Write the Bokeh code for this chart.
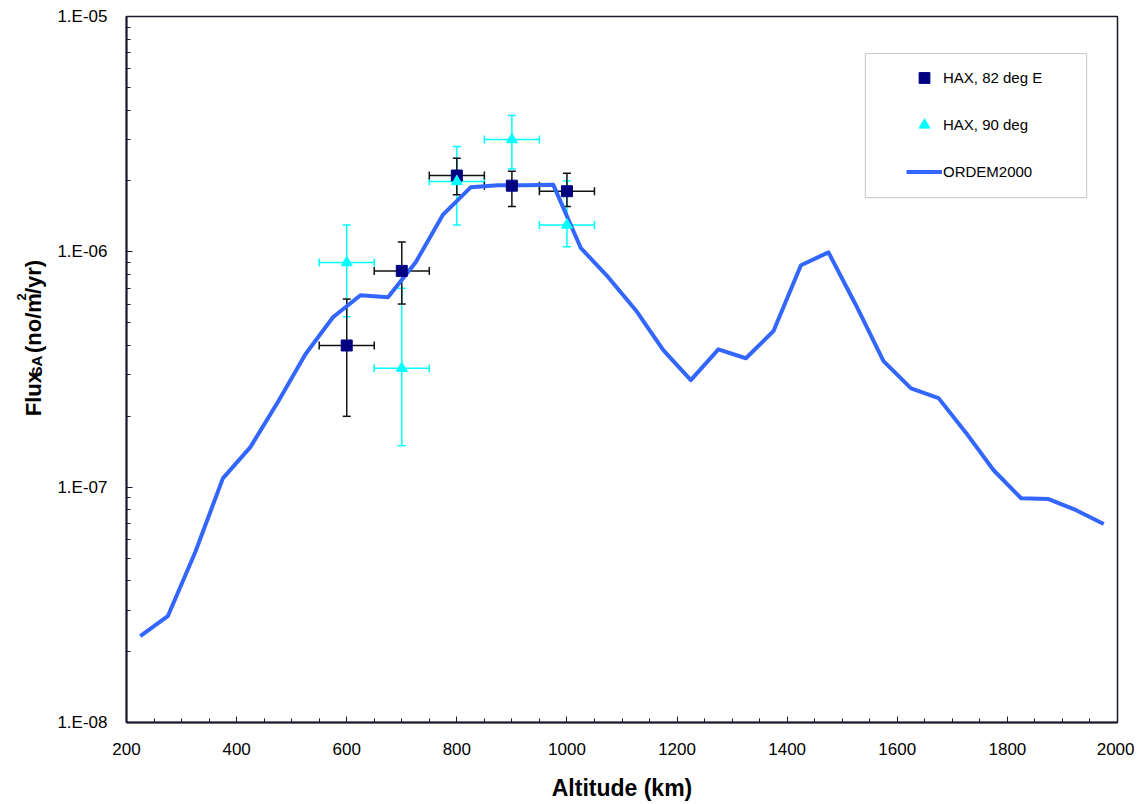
import math
from bokeh.plotting import figure
from bokeh.layouts import row
from bokeh.core.properties import value
from bokeh.models import (ColumnDataSource, Whisker, TeeHead, Legend, LegendItem,
                          FixedTicker, SingleIntervalTicker, CustomJSTickFormatter,
                          BoxAnnotation, Range1d)
from bokeh.embed import file_html
from bokeh.resources import INLINE

# ---------------- data ----------------
ordem_alt = [225, 275, 325, 375, 425, 475, 525, 575, 625, 675, 725, 775, 825, 875,
             925, 975, 1025, 1075, 1125, 1175, 1225, 1275, 1325, 1375, 1425, 1475,
             1525, 1575, 1625, 1675, 1725, 1775, 1825, 1875, 1925, 1975]
ordem_flux = [2.33e-8, 2.83e-8, 5.3e-8, 1.09e-7, 1.48e-7, 2.3e-7, 3.67e-7, 5.27e-7,
              6.54e-7, 6.41e-7, 9.0e-7, 1.44e-6, 1.88e-6, 1.92e-6, 1.92e-6, 1.93e-6,
              1.04e-6, 7.8e-7, 5.65e-7, 3.82e-7, 2.85e-7, 3.85e-7, 3.53e-7, 4.6e-7,
              8.77e-7, 9.95e-7, 5.93e-7, 3.43e-7, 2.63e-7, 2.39e-7, 1.70e-7, 1.18e-7,
              8.97e-8, 8.9e-8, 7.98e-8, 6.97e-8]

hax82_alt = [600, 700, 800, 900, 1000]
hax82_flux = [4.0e-7, 8.3e-7, 2.11e-6, 1.91e-6, 1.81e-6]
hax82_lo = [2.0e-7, 6.0e-7, 1.75e-6, 1.56e-6, 1.56e-6]
hax82_hi = [6.3e-7, 1.10e-6, 2.5e-6, 2.2e-6, 2.16e-6]

hax90_alt = [600, 700, 800, 900, 1000]
hax90_flux = [9.0e-7, 3.2e-7, 1.99e-6, 3.0e-6, 1.30e-6]
hax90_lo = [5.3e-7, 1.5e-7, 1.3e-6, 2.25e-6, 1.05e-6]
hax90_hi = [1.3e-6, 7.0e-7, 2.8e-6, 3.8e-6, 2.0e-6]

alt_err = [50, 50, 50, 50, 50]

y_major = [1e-8, 1e-7, 1e-6, 1e-5]

# y-axis title pieces (text, font size, baseline shift)
ytitle_parts = ["Flux", "SA", "(no/m", "2", "/yr)"]

# ---------------- figure ----------------
FONT = "Liberation Sans"
AXIS_COLOR = "#1a1a2e"
TOTAL_H = 794
LAB_W = 50

p = figure(frame_width=991, frame_height=706,
           x_range=Range1d(200, 2000), y_range=Range1d(1e-8, 1e-5),
           y_axis_type="log", output_backend="svg", toolbar_location=None,
           min_border_left=126 - LAB_W, min_border_right=17, min_border_top=16,
           min_border_bottom=72)
p.background_fill_color = "white"
p.border_fill_color = "white"
p.xgrid.visible = False
p.ygrid.visible = False
p.outline_line_color = AXIS_COLOR
p.outline_line_width = 1.5

# x axis
p.xaxis.ticker = SingleIntervalTicker(interval=200, num_minor_ticks=4)
p.xaxis.axis_label = "Altitude (km)"
p.xaxis.axis_label_text_font = FONT
p.xaxis.axis_label_text_font_size = "23px"
p.xaxis.axis_label_text_font_style = "bold"
p.xaxis.axis_label_text_color = "black"
p.xaxis.axis_label_standoff = 17
p.xaxis.major_label_standoff = 20

# y axis
minor = [m * d for d in (1e-8, 1e-7, 1e-6) for m in range(2, 10)]
p.yaxis.ticker = FixedTicker(ticks=y_major, minor_ticks=minor)
p.yaxis.formatter = CustomJSTickFormatter(code="""
    const e = Math.round(-Math.log10(tick));
    return "1.E-" + String(e).padStart(2, "0");
""")
p.yaxis.major_label_standoff = 19
p.yaxis.axis_label = None

for ax in (p.xaxis[0], p.yaxis[0]):
    ax.axis_line_color = AXIS_COLOR
    ax.axis_line_width = 2
    ax.major_tick_line_color = AXIS_COLOR
    ax.minor_tick_line_color = AXIS_COLOR
    ax.major_tick_in = 6
    ax.major_tick_out = 0
    ax.minor_tick_in = 4
    ax.minor_tick_out = 0
    ax.major_label_text_font = FONT
    ax.major_label_text_font_size = "17px"
    ax.major_label_text_color = "black"

# ---------------- error bars ----------------
src82 = ColumnDataSource(dict(x=hax82_alt, y=hax82_flux, lo=hax82_lo, hi=hax82_hi,
                              xl=[a - e for a, e in zip(hax82_alt, alt_err)],
                              xh=[a + e for a, e in zip(hax82_alt, alt_err)]))
src90 = ColumnDataSource(dict(x=hax90_alt, y=hax90_flux, lo=hax90_lo, hi=hax90_hi,
                              xl=[a - e for a, e in zip(hax90_alt, alt_err)],
                              xh=[a + e for a, e in zip(hax90_alt, alt_err)]))


def add_whiskers(src, color):
    for dim, base, lo, hi in (("height", "x", "lo", "hi"), ("width", "y", "xl", "xh")):
        w = Whisker(source=src, base=base, lower=lo, upper=hi, dimension=dim,
                    line_color=color, line_width=1.5, level="underlay",
                    upper_head=TeeHead(size=8, line_color=color, line_width=1.5),
                    lower_head=TeeHead(size=8, line_color=color, line_width=1.5))
        p.add_layout(w)


add_whiskers(src90, "#00FFFF")
add_whiskers(src82, "#111111")

# ---------------- series ----------------
line_r = p.line(ordem_alt, ordem_flux, line_color="#3366FF", line_width=4,
                line_join="round")
sq_r = p.scatter("x", "y", source=src82, marker="square", size=11,
                 fill_color="#000080", line_color="#000080")
tri_r = p.scatter("x", "y", source=src90, marker="triangle", size=11,
                  fill_color="#00FFFF", line_color="#00FFFF")

# ---------------- legend ----------------
box = BoxAnnotation(left=1542, right=1944, top=6.96e-6, bottom=1.70e-6,
                    fill_color="white", fill_alpha=1.0,
                    line_color="#404040", line_width=1, level="underlay")
p.add_layout(box)

legend = Legend(items=[LegendItem(label="HAX, 82 deg E", renderers=[sq_r]),
                       LegendItem(label="HAX, 90 deg", renderers=[tri_r]),
                       LegendItem(label="ORDEM2000", renderers=[line_r])],
                location=(780, 537), margin=0, padding=0, spacing=20,
                glyph_width=36, glyph_height=27, label_height=27,
                label_standoff=1, border_line_alpha=0, background_fill_alpha=0,
                label_text_font=FONT, label_text_font_size="15px",
                label_text_color="black")
p.add_layout(legend)

# ---------------- y axis title panel (with sub/superscript) ----------------
lab = figure(width=LAB_W, height=TOTAL_H, x_range=Range1d(0, LAB_W),
             y_range=Range1d(0, TOTAL_H), output_backend="svg",
             toolbar_location=None, min_border=0)
lab.axis.visible = False
lab.xgrid.visible = False
lab.ygrid.visible = False
lab.outline_line_color = None
lab.background_fill_color = "white"
lab.border_fill_color = "white"

# pixel layout of the pieces (x = baseline, y = start along the text)
piece_x = [33, 36, 33, 21, 33]
piece_y = [338.6, 383.8, 410.7, 470.6, 477.8]
piece_size = ["22px", "15px", "22px", "13px", "22px"]
for txt, px_, py_, fs in zip(ytitle_parts, piece_x, piece_y, piece_size):
    lab.text(x=[px_], y=[py_], text=[txt], angle=math.pi / 2,
             text_align="left", text_baseline="alphabetic",
             text_font=value(FONT), text_font_size=fs,
             text_font_style="bold", text_color="black")

layout = row(lab, p)
open("out.html", "w").write(file_html(layout, INLINE))
